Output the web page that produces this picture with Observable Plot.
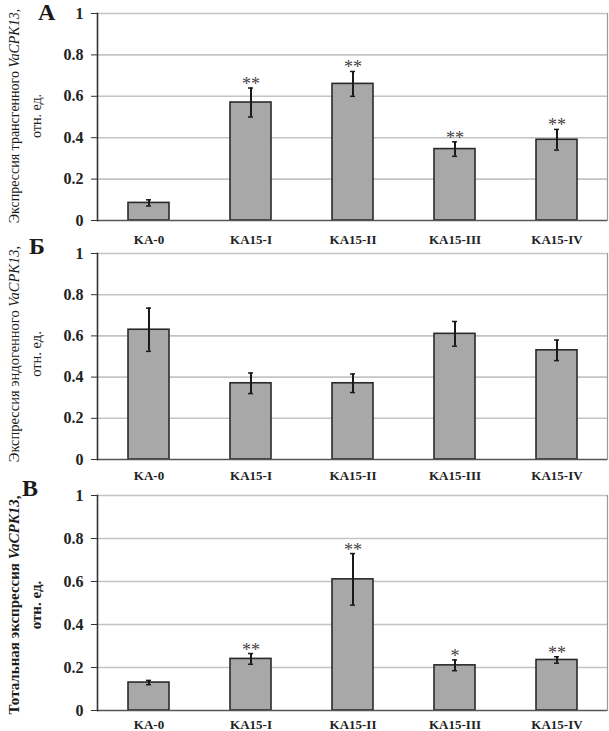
<!DOCTYPE html>
<html>
<head>
<meta charset="utf-8">
<script src="https://cdn.jsdelivr.net/npm/d3@7"></script>
<script src="https://cdn.jsdelivr.net/npm/@observablehq/plot@0.6"></script>
<style>
  html, body { margin: 0; padding: 0; background: #fff; }
  #wrap { position: relative; width: 609px; height: 731px; overflow: hidden; background: #fff; }
  #wrap > svg, #wrap > figure { position: absolute; left: 0; margin: 0; }
  .overlay { position: absolute; left: 0; top: 0; pointer-events: none; }
</style>
</head>
<body>
<div id="wrap"></div>
<script>
const categories = ["KA-0", "KA15-I", "KA15-II", "KA15-III", "KA15-IV"];
const yTicks = [0, 0.2, 0.4, 0.6, 0.8, 1];

// Panel А: transgene expression
const transValues = [0.085, 0.57, 0.66, 0.345, 0.39];
const transErrors = [0.015, 0.07, 0.06, 0.035, 0.05];
const transMarks  = ["", "**", "**", "**", "**"];

// Panel Б: endogenous expression
const endoValues = [0.63, 0.37, 0.37, 0.61, 0.53];
const endoErrors = [0.105, 0.05, 0.045, 0.06, 0.05];
const endoMarks  = ["", "", "", "", ""];

// Panel В: total expression
const totalValues = [0.13, 0.24, 0.61, 0.21, 0.235];
const totalErrors = [0.01, 0.025, 0.12, 0.025, 0.015];
const totalMarks  = ["", "**", "**", "*", "**"];

const serif = "'Liberation Serif', 'Times New Roman', 'DejaVu Serif', serif";
const wrap = document.getElementById("wrap");

function panel({values, errors, marks, top, height, marginTop, marginBottom, xPad}) {
  const data = categories.map((c, i) => ({c, v: values[i], e: errors[i], m: marks[i]}));
  const svg = Plot.plot({
    width: 609, height,
    marginLeft: 97, marginRight: 2, marginTop, marginBottom,
    style: {fontFamily: serif, background: "transparent", color: "#222", overflow: "visible"},
    x: {domain: categories, paddingInner: 0.6, paddingOuter: 0.3},
    y: {domain: [0, 1]},
    marks: [
      Plot.ruleY(yTicks.slice(1), {stroke: "#c4c4c4", strokeWidth: 1.6}),
      Plot.barY(data, {x: "c", y: "v", fill: "#a8a8a8", stroke: "#2a2a2a", strokeWidth: 1.6}),
      Plot.ruleX(data, {x: "c", y1: d => d.v - d.e, y2: d => d.v + d.e, stroke: "#1a1a1a", strokeWidth: 2}),
      Plot.tickY(data, {x: "c", y: d => d.v + d.e, stroke: "#1a1a1a", strokeWidth: 1.5, insetLeft: 18, insetRight: 18}),
      Plot.tickY(data, {x: "c", y: d => d.v - d.e, stroke: "#1a1a1a", strokeWidth: 1.5, insetLeft: 18, insetRight: 18}),
      Plot.text(data.filter(d => d.m), {x: "c", y: d => d.v + d.e, text: "m", lineAnchor: "bottom", dy: 2,
        fontSize: 18, fill: "#444", fontFamily: serif}),
      Plot.ruleY([0], {stroke: "#555", strokeWidth: 1.6}),
      Plot.frame({anchor: "left", stroke: "#333", strokeWidth: 1.6}),
      Plot.frame({anchor: "right", stroke: "#9a9a9a", strokeWidth: 1.2}),
      Plot.axisY({ticks: yTicks, tickFormat: d => d === 0 ? "0" : String(d), tickSize: 6, tickPadding: 8,
        fontSize: 16, fontWeight: "bold", label: null, stroke: "#333"}),
      Plot.axisX({tickSize: 0, tickPadding: xPad, fontSize: 13, fontWeight: "bold", label: null})
    ]
  });
  svg.style.top = top + "px";
  wrap.appendChild(svg);
}

panel({values: transValues, errors: transErrors, marks: transMarks, top: 0, height: 245, marginTop: 13, marginBottom: 25, xPad: 14});
panel({values: endoValues, errors: endoErrors, marks: endoMarks, top: 245, height: 235, marginTop: 8, marginBottom: 21, xPad: 11});
panel({values: totalValues, errors: totalErrors, marks: totalMarks, top: 485, height: 246, marginTop: 10, marginBottom: 21, xPad: 9});

// Overlay: panel letters and multi-line y-axis titles
const NS = "http://www.w3.org/2000/svg";
const ov = document.createElementNS(NS, "svg");
ov.setAttribute("class", "overlay");
ov.setAttribute("width", 609);
ov.setAttribute("height", 731);
ov.style.fontFamily = serif;
wrap.appendChild(ov);

function addText(x, y, parts, opts = {}) {
  const t = document.createElementNS(NS, "text");
  t.setAttribute("transform", `translate(${x},${y})` + (opts.rotate ? ` rotate(${opts.rotate})` : ""));
  t.setAttribute("text-anchor", opts.anchor || "middle");
  t.setAttribute("font-size", opts.size || 14);
  if (opts.weight) t.setAttribute("font-weight", opts.weight);
  if (opts.dy) t.setAttribute("dy", opts.dy);
  t.setAttribute("fill", "#1a1a1a");
  for (const p of parts) {
    const s = document.createElementNS(NS, "tspan");
    s.textContent = p.t;
    if (p.i) s.setAttribute("font-style", "italic");
    t.appendChild(s);
  }
  ov.appendChild(t);
}

const panelLetters = ["А", "Б", "В"];
addText(38, 20, [{t: panelLetters[0]}], {anchor: "start", size: 24, weight: "bold"});
addText(29, 254, [{t: panelLetters[1]}], {anchor: "start", size: 24, weight: "bold"});
addText(22, 496, [{t: panelLetters[2]}], {anchor: "start", size: 24, weight: "bold"});

const titleLine1 = [
  [{t: "Экспрессия трансгенного "}, {t: "VaCPK13", i: true}, {t: ","}],
  [{t: "Экспрессия эндогенного "}, {t: "VaCPK13", i: true}, {t: ","}],
  [{t: "Тотальная экспрессия "}, {t: "VaCPK13", i: true}, {t: ","}]
];
const titleLine2 = "отн. ед.";
const titleCenters = [116, 354, 605];
const titleSizes = [14, 14.5, 15];
titleLine1.forEach((parts, k) => {
  addText(14, titleCenters[k], parts, {rotate: -90, size: titleSizes[k], dy: "0.35em", weight: k === 2 ? "bold" : null});
  addText(36, titleCenters[k], [{t: titleLine2}], {rotate: -90, size: titleSizes[k], dy: "0.35em", weight: k === 2 ? "bold" : null});
});
</script>
</body>
</html>
